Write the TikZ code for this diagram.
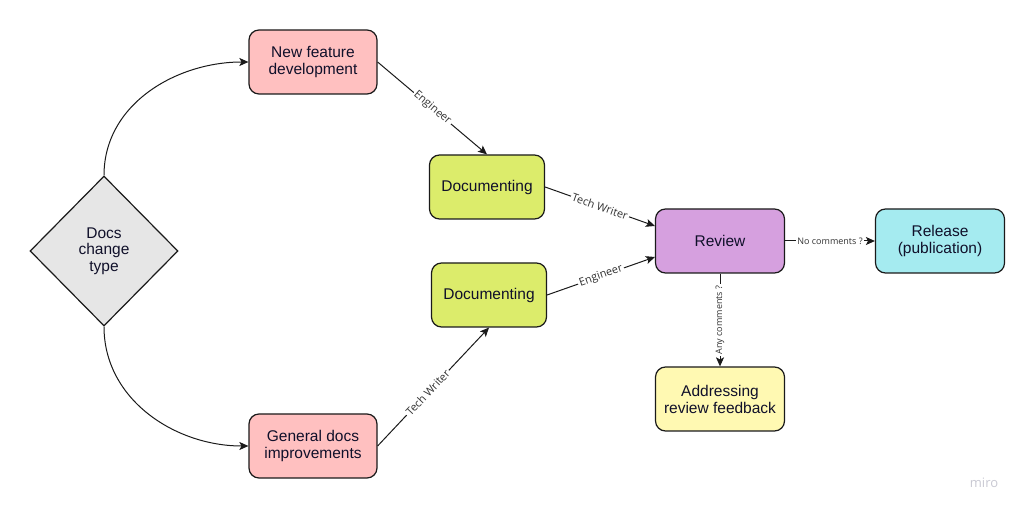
\documentclass[tikz,border=0pt]{standalone}
\usepackage{fontspec}
\setmainfont{Liberation Sans}
\newfontfamily\labelfont{Open Sans}
\usepackage{tikz}
\usetikzlibrary{arrows.meta,shapes.geometric}
\definecolor{linecol}{HTML}{1A1A1A}
\definecolor{textcol}{HTML}{10102A}
\definecolor{labelcol}{HTML}{333333}
\definecolor{graybox}{HTML}{E6E6E6}
\definecolor{pinkbox}{HTML}{FFC0C0}
\definecolor{greenbox}{HTML}{DCEC6B}
\definecolor{purplebox}{HTML}{D6A0DF}
\definecolor{cyanbox}{HTML}{A5EBF0}
\definecolor{yellowbox}{HTML}{FFF9B2}
\definecolor{mirocol}{HTML}{C8C8D2}

\begin{document}
\begin{tikzpicture}[x=1pt,y=1pt,
  box/.style={draw=linecol, line width=1.2pt, rounded corners=10pt,
    minimum width=129pt, minimum height=64pt, align=center, text=textcol,
    font=\fontsize{15.5}{17}\selectfont},
  decision/.style={diamond, draw=linecol, fill=graybox, line width=1.2pt,
    minimum width=148pt, minimum height=150pt, inner sep=0pt, align=center,
    text=textcol, font=\fontsize{15.5}{16.5}\selectfont},
  link/.style={draw=linecol, line width=1pt, -{Stealth[length=9pt,width=8pt,inset=2pt]}},
  linklabel/.style={fill=white, inner sep=1.5pt, text=labelcol,
    font=\labelfont\fontsize{11}{12}\selectfont},
  smalllabel/.style={linklabel, font=\labelfont\fontsize{9}{10}\selectfont},
]
\useasboundingbox (0,0) rectangle (1024,511);

% nodes
\node[decision] (type) at (104,260) {Docs\\change\\type};
\node[box, fill=pinkbox, minimum width=128pt] (feature) at (313,449) {New feature\\development};
\node[box, fill=pinkbox, minimum width=128pt] (general) at (313,65) {General docs\\improvements};
\node[box, fill=greenbox, minimum width=115pt] (docA) at (487,324) {Documenting};
\node[box, fill=greenbox, minimum width=115pt] (docB) at (489,216) {Documenting};
\node[box, fill=purplebox] (review) at (720,270) {Review};
\node[box, fill=cyanbox] (release) at (940,270) {Release\\(publication)};
\node[box, fill=yellowbox] (address) at (720,112) {Addressing\\review feedback};
\node[text=mirocol, font=\labelfont\fontsize{13}{14}\selectfont] (miro) at (984,28) {miro};

% connectors
\draw[link] (type.north) to[out=90,in=180] (feature.west);
\draw[link] (type.south) to[out=-90,in=180] (general.west);
\draw[link] (feature.east) -- node[linklabel, sloped] {Engineer} (docA.north);
\draw[link] (general.east) -- node[linklabel, sloped, pos=0.45] {Tech Writer} (docB.south);
\draw[link] (docA.east) -- node[linklabel, sloped] {Tech Writer} ([yshift=15pt]review.west);
\draw[link] (docB.east) -- node[linklabel, sloped] {Engineer} ([yshift=-16pt]review.west);
\draw[link] (review.east) -- node[smalllabel] {No comments ?} (release.west);
\draw[link] (review.south) -- node[smalllabel, rotate=90] {Any comments ?} (address.north);
\end{tikzpicture}
\end{document}
